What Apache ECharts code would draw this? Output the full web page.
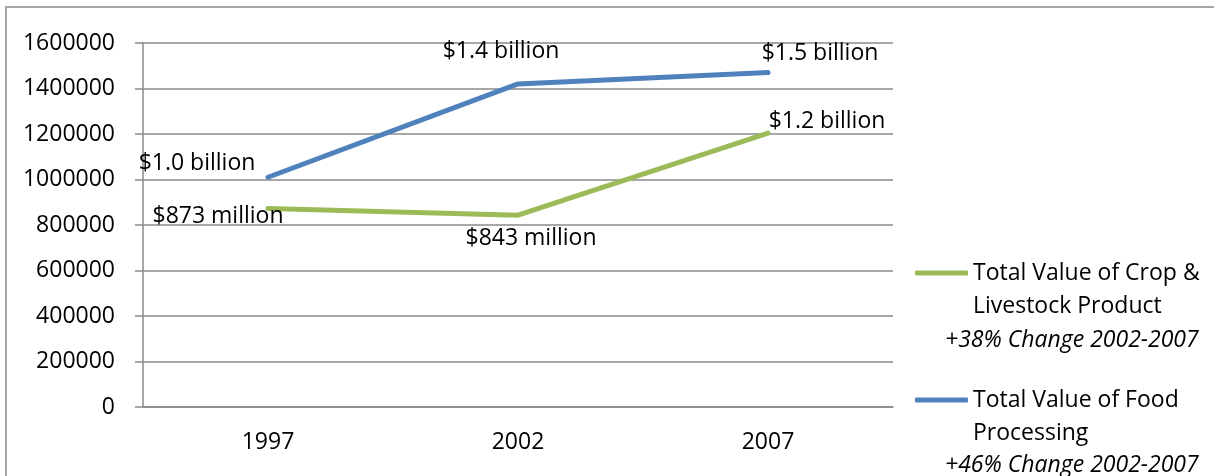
<!DOCTYPE html>
<html><head><meta charset="utf-8">
<script src="https://cdn.jsdelivr.net/npm/echarts@6/dist/echarts.min.js"></script>
<style>html,body{margin:0;padding:0;background:#fff}#c{width:1214px;height:476px}</style>
</head><body><div id="c"></div>
<script>
const years = ['1997', '2002', '2007'];
const cropValues = [873000, 843000, 1204000];
const foodValues = [1010000, 1420000, 1470000];
const cropLabels = ['$873 million', '$843 million', '$1.2 billion'];
const foodLabels = ['$1.0 billion', '$1.4 billion', '$1.5 billion'];
const cropName = 'Total Value of Crop & Livestock Product';
const foodName = 'Total Value of Food Processing';
const cropLegendLines = ['Total Value of Crop &', 'Livestock Product'];
const foodLegendLines = ['Total Value of Food', 'Processing'];
const cropNote = '+38% Change 2002-2007';
const foodNote = '+46% Change 2002-2007';
const yMin = 0, yMax = 1600000, yInterval = 200000;

// label placement (layout only)
const cropOffsets = [[-50, 8], [13, 23], [59, -12]];
const foodOffsets = [[-71, -14], [-17, -32], [52, -19]];

const FONT = '"Open Sans", sans-serif';
const FS = 23;
const GRID = '#8a8a8a';

function mkData(values, labels, offsets) {
  return values.map((v, i) => ({
    value: v,
    label: { formatter: labels[i], offset: offsets[i] }
  }));
}
// a blank line above keeps the legend icon level with the first text line
function legendText(lines) { return ' \n' + lines.join('\n'); }

const chart = echarts.init(document.getElementById('c'), null, { renderer: 'canvas' });
const legendBase = {
  orient: 'vertical', left: 915, padding: 0, selectedMode: false,
  itemWidth: 53, itemHeight: 5, icon: 'roundRect',
  textStyle: { fontFamily: FONT, fontSize: FS, color: '#000', lineHeight: 33 },
  formatter: n => n === cropName ? legendText(cropLegendLines) : legendText(foodLegendLines)
};
chart.setOption({
  animation: false,
  backgroundColor: '#fff',
  grid: { left: 143, right: 321, top: 43, bottom: 69 },
  legend: [
    Object.assign({}, legendBase, { top: 223.5, data: [cropName] }),
    Object.assign({}, legendBase, { top: 350.5, data: [foodName] })
  ],
  xAxis: {
    type: 'category', data: years, boundaryGap: true,
    axisLine: { lineStyle: { color: GRID, width: 1.5 } },
    axisTick: { length: 8, lineStyle: { color: GRID, width: 1.5 } },
    axisLabel: { fontFamily: FONT, fontSize: FS, color: '#000', margin: 24 }
  },
  yAxis: {
    type: 'value', min: yMin, max: yMax, interval: yInterval,
    axisLine: { show: true, lineStyle: { color: GRID, width: 1.5 } },
    axisTick: { show: true, length: 8, lineStyle: { color: GRID, width: 1.5 } },
    splitLine: { lineStyle: { color: GRID, width: 1.5 } },
    axisLabel: { fontFamily: FONT, fontSize: FS, color: '#000', margin: 28, formatter: v => String(v) }
  },
  series: [
    {
      name: cropName, type: 'line', data: mkData(cropValues, cropLabels, cropOffsets),
      color: '#9BBB59', symbol: 'circle', symbolSize: 1,
      lineStyle: { width: 5, color: '#9BBB59', cap: 'round' },
      label: { show: true, position: 'inside', fontFamily: FONT, fontSize: FS, color: '#000' },
      emphasis: { disabled: true }, z: 3
    },
    {
      name: foodName, type: 'line', data: mkData(foodValues, foodLabels, foodOffsets),
      color: '#4F81BD', symbol: 'circle', symbolSize: 1,
      lineStyle: { width: 5, color: '#4F81BD', cap: 'round' },
      label: { show: true, position: 'inside', fontFamily: FONT, fontSize: FS, color: '#000' },
      emphasis: { disabled: true }, z: 3
    }
  ],
  graphic: [
    { type: 'rect', shape: { x: 6, y: 7, width: 1220, height: 480 }, style: { fill: null, stroke: '#a6a6a6', lineWidth: 2 }, silent: true, z: -1 },
    { type: 'text', left: 945, top: 329, style: { text: cropNote, font: 'italic ' + FS + 'px ' + FONT, fill: '#000' } },
    { type: 'text', left: 945, top: 454, style: { text: foodNote, font: 'italic ' + FS + 'px ' + FONT, fill: '#000' } }
  ]
});
</script>
</body></html>
